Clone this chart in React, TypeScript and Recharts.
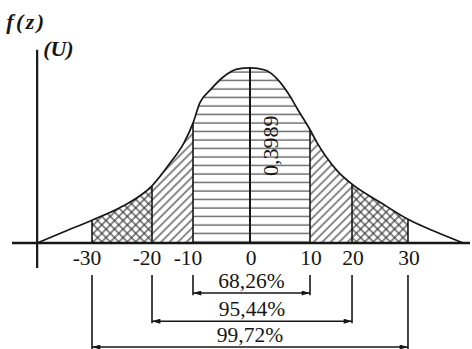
import React from 'react';
import { ComposedChart, Area, Line, XAxis, YAxis, ReferenceLine } from 'recharts';

// ---- data ----
const Z_TICKS = [-30, -20, -10, 0, 10, 20, 30];
const CURVE_Z = [-39.6, -35, -30, -25, -20, -15.6, -12.2, -10, -8.8, -7, -4.7, -2.3, 0, 2.5, 4.7, 6.3, 8, 10, 11.7, 14, 16.7, 20, 25, 30, 35, 39.8];
const CURVE_F = [0, 0.025, 0.052, 0.083, 0.13, 0.182, 0.228, 0.273, 0.319, 0.348, 0.378, 0.396, 0.3989, 0.394, 0.371, 0.342, 0.303, 0.258, 0.228, 0.194, 0.162, 0.134, 0.093, 0.054, 0.025, 0];
const PEAK_LABEL = '0,3989';
const BAND_FROM = [-10, -20, -30];
const BAND_TO = [10, 20, 30];
const BAND_LABELS = ['68,26%', '95,44%', '99,72%'];
const Y_LABEL_TOP = 'f(z)';
const Y_LABEL_SUB = '(U)';

// ---- layout constants ----
const BAND_ARROW_F = [-0.114, -0.178, -0.237];
const DIM_TOP_F = -0.073;
const Y_AXIS_Z = -39.6;
const X_DOMAIN: [number, number] = [-44, 41];
const Y_DOMAIN: [number, number] = [0, 0.46];
// hand-drawn axis: tick positions are not evenly spaced (fraction of width)
const KNOT_Z = [-44, -30, -20, -10, 0, 10, 20, 30, 41];
const KNOT_T = [0, 0.1747, 0.3057, 0.3952, 0.5197, 0.6507, 0.7424, 0.8646, 1];

const CURVE = CURVE_Z.map((z, i) => ({ z, f: CURVE_F[i] }));
const fAt = (z: number) => {
  const p = CURVE.find((d) => d.z === z);
  return p ? p.f : 0;
};
const segment = (lo: number, hi: number) => CURVE.filter((d) => d.z >= lo && d.z <= hi);

function interp(v: number, xs: number[], ys: number[]) {
  const n = xs.length;
  let i = 0;
  if (v <= xs[0]) i = 0;
  else if (v >= xs[n - 1]) i = n - 2;
  else {
    while (i < n - 2 && v > xs[i + 1]) i++;
  }
  const t = (v - xs[i]) / (xs[i + 1] - xs[i]);
  return ys[i] + t * (ys[i + 1] - ys[i]);
}

function sketchScale(dom: number[] = X_DOMAIN, rng: number[] = [0, 1]): any {
  let d = dom.slice();
  let r = rng.slice();
  const s: any = (v: any) => {
    const n = Number(v);
    if (!isFinite(n)) return NaN;
    return r[0] + interp(n, KNOT_Z, KNOT_T) * (r[1] - r[0]);
  };
  s.domain = (x?: any[]) => {
    if (x === undefined) return d.slice();
    d = x.slice();
    return s;
  };
  s.range = (x?: any[]) => {
    if (x === undefined) return r.slice();
    r = x.slice();
    return s;
  };
  s.copy = () => sketchScale(d, r);
  s.invert = (p: number) => interp((p - r[0]) / (r[1] - r[0]), KNOT_T, KNOT_Z);
  s.ticks = () => Z_TICKS.slice();
  s.tickFormat = () => (v: any) => String(v);
  s.nice = () => s;
  s.clamp = () => s;
  return s;
}

const FONT = "'Liberation Serif', 'Times New Roman', serif";
const INK = '#161616';

const ZTick = (props: any) => {
  const { x, y, payload } = props;
  const v = payload.value;
  return (
    <text x={x + (v < 0 ? -5 : 1)} y={y + 22} textAnchor="middle" fontFamily={FONT} fontSize={21.5} fill={INK}>
      {String(v)}
    </text>
  );
};

const YAxisLabel = (props: any) => {
  const vb = props.viewBox || { x: 37, y: 50 };
  return (
    <g fontFamily={FONT} fontStyle="italic" fontWeight="bold" fill={INK}>
      <text x={vb.x - 31} y={vb.y - 21} fontSize={22} letterSpacing={2.5}>
        {Y_LABEL_TOP}
      </text>
      <text x={vb.x + 6} y={vb.y + 6} fontSize={22}>
        {Y_LABEL_SUB}
      </text>
    </g>
  );
};

const PeakLabel = (props: any) => {
  const vb = props.viewBox || { x: 250, y: 68, height: 175 };
  const cx = vb.x + 20;
  const cy = vb.y + 78;
  return (
    <text
      x={cx}
      y={cy}
      textAnchor="middle"
      dominantBaseline="central"
      transform={`rotate(-90 ${cx} ${cy})`}
      fontFamily={FONT}
      fontSize={22}
      fill={INK}
    >
      {PEAK_LABEL}
    </text>
  );
};

const arrowShape = (p: any) => (
  <line
    x1={p.x1}
    y1={p.y1}
    x2={p.x2}
    y2={p.y2}
    stroke={INK}
    strokeWidth={1.5}
    markerStart="url(#arrowHead)"
    markerEnd="url(#arrowHead)"
  />
);

export default function App() {
  return (
    <div style={{ position: 'absolute', left: 0, top: 0, width: 472, height: 349, background: '#fff' }}>
      <ComposedChart width={472} height={349} margin={{ top: 41, right: 2, bottom: 76, left: 12 }}>
        <defs>
          <pattern id="hatchH" patternUnits="userSpaceOnUse" width="12" height="8.5">
            <line x1="0" y1="4" x2="12" y2="4" stroke="#4a4a4a" strokeWidth="1.2" />
          </pattern>
          <pattern id="hatchD" patternUnits="userSpaceOnUse" width="6" height="6" patternTransform="rotate(45)">
            <line x1="3" y1="0" x2="3" y2="6" stroke="#2a2a2a" strokeWidth="1.1" />
          </pattern>
          <pattern id="hatchX" patternUnits="userSpaceOnUse" width="6" height="6" patternTransform="rotate(45)">
            <line x1="3" y1="0" x2="3" y2="6" stroke="#2a2a2a" strokeWidth="1.1" />
            <line x1="0" y1="3" x2="6" y2="3" stroke="#2a2a2a" strokeWidth="1.1" />
          </pattern>
          <marker
            id="arrowHead"
            viewBox="0 0 10 6"
            refX="10"
            refY="3"
            markerWidth="9"
            markerHeight="5"
            markerUnits="userSpaceOnUse"
            orient="auto-start-reverse"
          >
            <path d="M0,0 L10,3 L0,6 z" fill={INK} />
          </marker>
        </defs>
        <XAxis
          dataKey="z"
          type="number"
          domain={X_DOMAIN}
          scale={sketchScale()}
          allowDataOverflow
          ticks={Z_TICKS}
          interval={0}
          axisLine={false}
          tickLine={false}
          tickSize={0}
          tickMargin={0}
          height={30}
          tick={<ZTick />}
        />
        <YAxis type="number" domain={Y_DOMAIN} allowDataOverflow hide />

        <Area data={segment(-10, 10)} dataKey="f" type="monotone" fill="url(#hatchH)" fillOpacity={1} stroke="none" isAnimationActive={false} />
        <Area data={segment(-20, -10)} dataKey="f" type="monotone" fill="url(#hatchD)" fillOpacity={1} stroke="none" isAnimationActive={false} />
        <Area data={segment(10, 20)} dataKey="f" type="monotone" fill="url(#hatchD)" fillOpacity={1} stroke="none" isAnimationActive={false} />
        <Area data={segment(-30, -20)} dataKey="f" type="monotone" fill="url(#hatchX)" fillOpacity={1} stroke="none" isAnimationActive={false} />
        <Area data={segment(20, 30)} dataKey="f" type="monotone" fill="url(#hatchX)" fillOpacity={1} stroke="none" isAnimationActive={false} />

        {Z_TICKS.filter((z) => z !== 0).map((z) => (
          <ReferenceLine
            key={`v${z}`}
            segment={[{ x: z, y: 0 }, { x: z, y: fAt(z) }]}
            stroke={INK}
            strokeWidth={1.6}
            ifOverflow="visible"
          />
        ))}
        <ReferenceLine
          segment={[{ x: 0, y: 0 }, { x: 0, y: fAt(0) }]}
          stroke={INK}
          strokeWidth={2}
          ifOverflow="visible"
          label={PeakLabel}
        />

        <Line data={CURVE} dataKey="f" type="monotone" stroke={INK} strokeWidth={1.7} dot={false} isAnimationActive={false} />

        {/* x axis line */}
        <ReferenceLine
          segment={[{ x: X_DOMAIN[0], y: 0 }, { x: X_DOMAIN[1], y: 0 }]}
          stroke={INK}
          strokeWidth={2.6}
          ifOverflow="visible"
        />
        {/* y axis line */}
        <ReferenceLine
          segment={[{ x: Y_AXIS_Z, y: -0.057 }, { x: Y_AXIS_Z, y: 0.44 }]}
          stroke={INK}
          strokeWidth={2.2}
          ifOverflow="visible"
          label={YAxisLabel}
        />

        {BAND_LABELS.map((lab, i) => (
          <React.Fragment key={lab}>
            <ReferenceLine
              segment={[{ x: BAND_FROM[i], y: DIM_TOP_F }, { x: BAND_FROM[i], y: BAND_ARROW_F[i] - 0.005 }]}
              stroke={INK}
              strokeWidth={1.6}
              ifOverflow="visible"
            />
            <ReferenceLine
              segment={[{ x: BAND_TO[i], y: DIM_TOP_F }, { x: BAND_TO[i], y: BAND_ARROW_F[i] - 0.005 }]}
              stroke={INK}
              strokeWidth={1.6}
              ifOverflow="visible"
            />
            <ReferenceLine
              segment={[{ x: BAND_FROM[i], y: BAND_ARROW_F[i] }, { x: BAND_TO[i], y: BAND_ARROW_F[i] }]}
              ifOverflow="visible"
              shape={arrowShape}
              label={{ value: lab, position: 'top', offset: 5, fill: INK, fontSize: 21.5, fontFamily: FONT }}
            />
          </React.Fragment>
        ))}
      </ComposedChart>
    </div>
  );
}
